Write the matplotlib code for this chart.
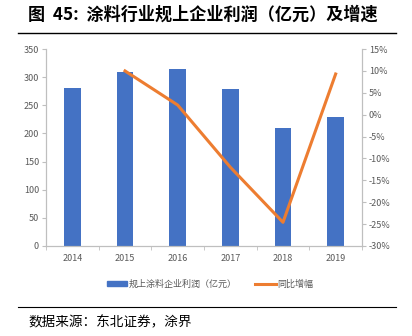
import numpy as np
import matplotlib.pyplot as plt
from matplotlib.lines import Line2D

plt.rcParams['font.family'] = ['Noto Sans CJK SC', 'DejaVu Sans']

years = ['2014', '2015', '2016', '2017', '2018', '2019']
profit = [280, 308.5, 315, 278.5, 210, 228.5]
growth_years = [1, 2, 3, 4, 5]
growth = [10.0, 2.2, -12.0, -24.6, 9.3]

blue = '#4472C4'
orange = '#ED7D31'
grey = '#BFBFBF'
txt = '#595959'

fig = plt.figure(figsize=(4.12, 3.36), dpi=100)
ax = fig.add_axes([0.1117, 0.268, 0.7669, 0.586])
x = np.arange(len(years))
ax.bar(x, profit, width=0.32, color=blue, zorder=2)
ax.set_xlim(-0.5, 5.5)
ax.set_ylim(0, 350)
ax.set_yticks(range(0, 351, 50))
ax.set_xticks(x)
ax.set_xticklabels(years)
ax.set_xticks(np.arange(-0.5, 5.6, 1), minor=True)
ax.tick_params(axis='x', which='major', length=0, pad=6, labelsize=6.5, labelcolor=txt)
ax.tick_params(axis='x', which='minor', length=3, color=grey, direction='out')
ax.tick_params(axis='y', length=3, color=grey, labelsize=6.5, labelcolor=txt, pad=2)

ax2 = ax.twinx()
ax2.plot(growth_years, growth, color=orange, lw=2.2, zorder=3)
ax2.set_ylim(-30, 15)
ax2.set_yticks(range(-30, 16, 5))
ax2.set_yticklabels([f'{v}%' for v in range(-30, 16, 5)])
ax2.tick_params(axis='y', length=3, color=grey, labelsize=6.5, labelcolor=txt, pad=2)

for a in (ax, ax2):
    a.spines['top'].set_visible(False)
    for s in ('left', 'right', 'bottom'):
        a.spines[s].set_color(grey)
        a.spines[s].set_linewidth(0.8)

handles = [plt.Rectangle((0, 0), 1, 1, color=blue),
           Line2D([0], [0], color=orange, lw=2.2)]
fig.legend(handles, ['规上涂料企业利润（亿元）', '同比增幅'],
           loc='center', bbox_to_anchor=(0.51, 0.155), ncol=2, frameon=False,
           fontsize=6.5, handlelength=2.3, handleheight=0.5, columnspacing=2.0,
           handletextpad=0.2, labelcolor=txt)

fig.text(0.068, 0.955, '图  45:  涂料行业规上企业利润（亿元）及增速',
         fontsize=12.3, fontweight='bold', va='center', ha='left')
fig.add_artist(Line2D([0.044, 0.96], [0.902, 0.902], color='black', lw=1))
fig.add_artist(Line2D([0.044, 0.96], [0.086, 0.086], color='black', lw=0.8))
fig.text(0.07, 0.04, '数据来源：东北证券，涂界', fontsize=9.8, va='center', ha='left')

fig.savefig('out.png', dpi=100)
